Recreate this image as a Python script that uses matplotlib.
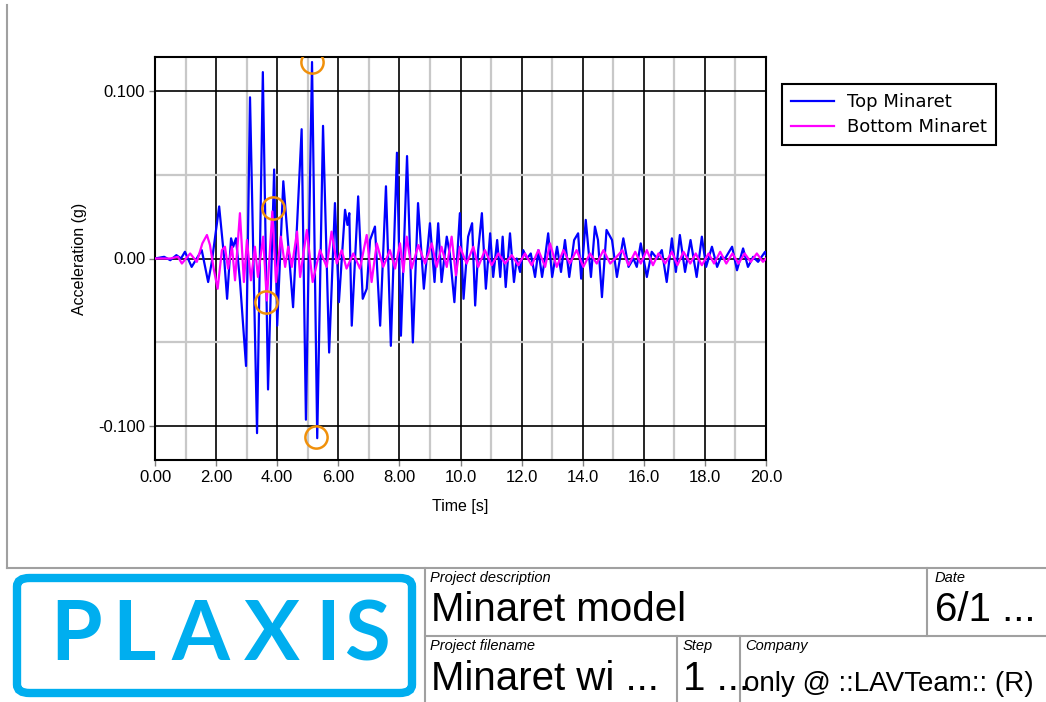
import matplotlib.pyplot as plt
from matplotlib.lines import Line2D
from matplotlib.patches import FancyBboxPatch

W, H = 1046, 702

# Top Minaret (peaks)
top_t = [0.0, 0.3, 0.5, 0.7, 0.85, 0.98, 1.2, 1.53, 1.74, 1.86, 2.10, 2.26, 2.36, 2.49, 2.56,
         2.65, 2.78, 2.98, 3.11, 3.34, 3.53, 3.70, 3.90, 4.00, 4.20, 4.52, 4.80, 4.94, 5.14,
         5.31, 5.50, 5.70, 5.89, 6.02, 6.22, 6.30, 6.36, 6.44, 6.65, 6.80, 6.93, 7.04, 7.20,
         7.37, 7.56, 7.72, 7.92, 8.05, 8.25, 8.44, 8.61, 8.80, 9.00, 9.15, 9.27, 9.38, 9.55,
         9.65, 9.80, 9.98, 10.10, 10.25, 10.38, 10.48, 10.58, 10.70, 10.83, 10.97, 11.07,
         11.20, 11.30, 11.38, 11.48, 11.62, 11.75, 11.84, 11.95, 12.05, 12.18, 12.30, 12.44,
         12.55, 12.67, 12.77, 12.87, 13.00, 13.16, 13.29, 13.42, 13.56, 13.72, 13.85, 13.95,
         14.10, 14.27, 14.40, 14.50, 14.63, 14.78, 14.96, 15.12, 15.33, 15.50, 15.66, 15.77,
         15.90, 16.10, 16.26, 16.43, 16.59, 16.75, 16.92, 17.05, 17.18, 17.35, 17.53, 17.73,
         17.90, 18.04, 18.23, 18.40, 18.53, 18.66, 18.89, 19.05, 19.25, 19.41, 19.58, 19.74,
         19.97, 20.0]
top_a = [0.0, 0.001, -0.001, 0.002, 0.0, 0.004, -0.005, 0.005, -0.014, -0.002, 0.031, 0.001,
         -0.024, 0.012, 0.007, 0.012, -0.013, -0.064, 0.096, -0.104, 0.111, -0.078, 0.053,
         -0.040, 0.046, -0.029, 0.077, -0.096, 0.117, -0.107, 0.079, -0.056, 0.033, -0.026,
         0.029, 0.020, 0.027, -0.040, 0.037, -0.024, -0.018, 0.011, 0.019, -0.040, 0.043,
         -0.052, 0.063, -0.046, 0.061, -0.050, 0.033, -0.018, 0.021, -0.014, 0.021, -0.014,
         0.013, 0.003, -0.026, 0.027, -0.024, 0.013, 0.021, -0.028, 0.005, 0.027, -0.018,
         0.015, -0.011, 0.011, -0.011, 0.013, -0.017, 0.015, -0.014, 0.000, -0.008, 0.005,
         0.000, 0.003, -0.011, 0.005, -0.011, 0.001, 0.015, -0.011, 0.007, -0.008, 0.011,
         -0.011, 0.011, 0.015, -0.012, 0.023, -0.011, 0.019, 0.011, -0.023, 0.017, 0.011,
         -0.011, 0.012, -0.005, 0.000, -0.005, 0.009, -0.011, 0.004, 0.000, 0.005, -0.014,
         0.012, -0.008, 0.014, -0.008, 0.011, -0.011, 0.013, -0.005, 0.007, -0.005, 0.001,
         0.000, 0.007, -0.007, 0.006, -0.005, 0.001, -0.002, 0.004, 0.002]

# Bottom Minaret
bot_t = [0.0, 0.5, 0.75, 0.88, 1.15, 1.37, 1.55, 1.70, 1.80, 1.92, 2.05, 2.19, 2.29, 2.39,
         2.52, 2.62, 2.78, 2.91, 3.01, 3.14, 3.27, 3.37, 3.54, 3.66, 3.84, 3.96, 4.12, 4.26,
         4.36, 4.48, 4.65, 4.75, 4.97, 5.16, 5.40, 5.62, 5.78, 5.95, 6.11, 6.27, 6.49, 6.71,
         6.93, 7.09, 7.26, 7.47, 7.69, 7.86, 8.02, 8.13, 8.24, 8.40, 8.62, 8.84, 9.06, 9.22,
         9.38, 9.55, 9.71, 9.85, 9.98, 10.2, 10.42, 10.58, 10.8, 11.02, 11.24, 11.46, 11.68,
         11.89, 12.11, 12.33, 12.55, 12.77, 12.93, 13.15, 13.37, 13.58, 13.80, 14.02, 14.24,
         14.46, 14.68, 14.9, 15.11, 15.3, 15.5, 15.72, 15.9, 16.1, 16.3, 16.48, 16.7, 16.92,
         17.1, 17.3, 17.52, 17.7, 17.9, 18.12, 18.3, 18.5, 18.7, 18.9, 19.1, 19.3, 19.5, 19.7,
         19.9, 20.0]
bot_a = [0.0, 0.0, 0.001, -0.003, 0.003, -0.002, 0.009, 0.014, 0.008, -0.006, -0.018, 0.005,
         0.007, -0.006, 0.007, -0.013, 0.027, -0.014, 0.011, -0.013, 0.007, -0.011, 0.013,
         -0.025, 0.028, -0.014, 0.013, -0.005, 0.007, -0.005, 0.016, -0.011, 0.017, -0.014,
         0.005, -0.005, 0.016, -0.003, 0.005, -0.006, 0.003, -0.006, 0.014, -0.014, 0.009,
         -0.005, 0.005, -0.006, 0.009, -0.008, 0.013, -0.006, 0.008, -0.003, 0.009, -0.005,
         0.007, -0.005, 0.013, -0.010, 0.007, -0.003, 0.007, -0.005, 0.005, -0.004, 0.003,
         -0.003, 0.002, -0.004, 0.003, -0.004, 0.005, -0.005, 0.009, -0.005, 0.005, -0.003,
         0.005, -0.005, 0.003, -0.003, 0.005, -0.003, 0.001, 0.005, -0.004, 0.004, -0.003,
         0.005, -0.004, 0.003, -0.003, 0.004, -0.004, 0.004, -0.003, 0.003, -0.004, 0.003,
         -0.003, 0.004, -0.003, 0.003, -0.003, 0.003, -0.002, 0.003, -0.002, 0.0]

# marked peaks
mark_t = [5.14, 3.86, 3.63, 5.27]
mark_a = [0.117, 0.030, -0.026, -0.1065]

xticks = [0, 2, 4, 6, 8, 10, 12, 14, 16, 18, 20]
xlabels = ["0.00", "2.00", "4.00", "6.00", "8.00", "10.0", "12.0", "14.0", "16.0", "18.0", "20.0"]
yticks = [-0.1, 0.0, 0.1]
ylabels = ["-0.100", "0.00", "0.100"]


def fx(x):
    return x / W


def fy(y):
    return 1 - y / H


plt.rcParams["font.family"] = ["Liberation Sans", "DejaVu Sans"]
fig = plt.figure(figsize=(W / 100, H / 100), dpi=100)

ax = fig.add_axes([fx(155), fy(460), (766 - 155) / W, (460 - 57) / H])
ax.plot(top_t, top_a, color="#0000ff", lw=1.6, label="Top Minaret", zorder=3)
ax.plot(bot_t, bot_a, color="#ff00ff", lw=1.6, label="Bottom Minaret", zorder=4)
ax.plot(mark_t, mark_a, "o", ms=16, mfc="none", mec="#f0900a", mew=1.8, zorder=5)

ax.set_xlim(0, 20)
ax.set_ylim(-0.12, 0.12)
ax.set_xticks(xticks)
ax.set_xticklabels(xlabels)
ax.set_yticks(yticks)
ax.set_yticklabels(ylabels)
ax.set_xticks([1, 3, 5, 7, 9, 11, 13, 15, 17, 19], minor=True)
ax.set_yticks([-0.05, 0.05], minor=True)
ax.grid(which="major", color="black", lw=1.2, zorder=1)
ax.grid(which="minor", color="#c8c8c8", lw=1.6, zorder=0)
ax.set_axisbelow(True)
ax.tick_params(which="major", length=4, width=1, color="#808080", labelsize=12, pad=3)
ax.tick_params(which="minor", length=0)
for s in ax.spines.values():
    s.set_linewidth(1.5)
ax.set_xlabel("Time [s]", fontsize=11.5, labelpad=10)
ax.set_ylabel("Acceleration (g)", fontsize=11.5, labelpad=8)

leg = ax.legend(loc="upper left", bbox_to_anchor=(fx(782), fy(84)),
                bbox_transform=fig.transFigure, fancybox=False, framealpha=1,
                edgecolor="black", handlelength=2.4, borderpad=0.5,
                labelspacing=0.4, handletextpad=0.7, borderaxespad=0,
                prop={"family": "DejaVu Sans", "size": 13})
leg.get_frame().set_linewidth(1.5)

# page frame and title block
gray = "#a0a0a0"
lines = [
    ((7, 7), (5, 568)),
    ((7, 1046), (568, 568)),
    ((425, 425), (568, 702)),
    ((425, 1046), (636, 636)),
    ((927, 927), (568, 636)),
    ((677, 677), (636, 702)),
    ((740, 740), (636, 702)),
]
for xs, ys in lines:
    fig.add_artist(Line2D([fx(xs[0]), fx(xs[1])], [fy(ys[0]), fy(ys[1])],
                          color=gray, lw=1.5))

cyan = "#00aeef"
logo = FancyBboxPatch((fx(17), fy(693)), (412 - 17) / W, (693 - 578) / H,
                      boxstyle="round,pad=0,rounding_size=0.012",
                      transform=fig.transFigure, fill=False, ec=cyan, lw=6)
fig.add_artist(logo)
for ch, cx in zip("PLAXIS", [76, 134, 200, 272, 328, 367]):
    fig.text(fx(cx), fy(637), ch, ha="center", va="center", color=cyan,
             fontsize=60, fontweight="bold", family="Lato")

small = dict(fontsize=10.5, style="italic", va="center")
fig.text(fx(430), fy(578), "Project description", **small)
fig.text(fx(935), fy(578), "Date", **small)
fig.text(fx(430), fy(646), "Project filename", **small)
fig.text(fx(683), fy(646), "Step", **small)
fig.text(fx(745), fy(646), "Company", **small)

big = dict(fontsize=29, va="center")
fig.text(fx(431), fy(610), "Minaret model", **big)
fig.text(fx(935), fy(610), "6/1 ...", **big)
fig.text(fx(431), fy(679), "Minaret wi ...", **big)
fig.text(fx(683), fy(679), "1 ...", **big)
fig.text(fx(744), fy(684), "only @ ::LAVTeam:: (R)", fontsize=20, va="center")

fig.savefig("out.png", dpi=100)
